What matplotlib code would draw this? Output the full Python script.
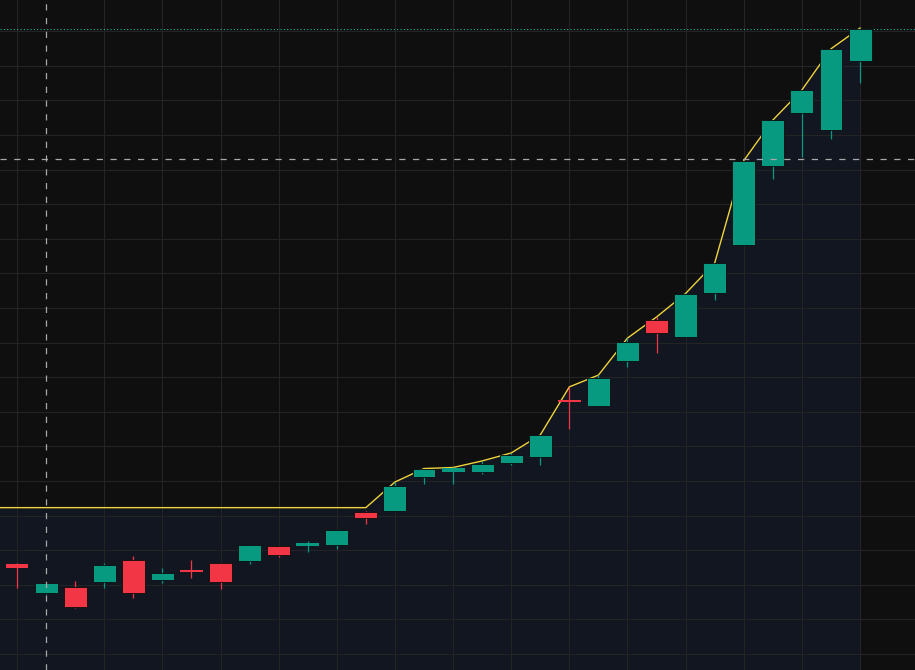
import numpy as np
import matplotlib
matplotlib.use("Agg")
import matplotlib.pyplot as plt

# candle data
opens = [36.0, 27.6, 29.4, 30.8, 37.2, 31.4, 34.1, 36.3, 36.9, 41.2,
         41.2, 41.5, 51.0, 51.3, 61.2, 62.6, 62.6, 65.2, 66.9, 83.5,
         81.7, 94.7, 106.5, 101.6, 114.3, 128.2, 151.0, 166.4, 161.5, 181.4]
highs = [36.3, 30.8, 31.1, 36.3, 38.3, 34.9, 37.2, 36.4, 41.5, 41.3,
         42.7, 45.9, 51.3, 59.7, 63.6, 63.9, 65.8, 68.1, 73.3, 87.2,
         90.6, 101.3, 107.4, 114.2, 123.0, 152.6, 164.3, 173.0, 184.9, 190.9]
lows = [29.1, 27.3, 23.3, 29.1, 26.2, 30.5, 32.0, 28.8, 36.0, 38.0,
        39.5, 40.4, 47.6, 51.2, 59.1, 59.1, 62.0, 64.6, 64.6, 75.0,
        81.6, 93.0, 97.0, 101.5, 112.3, 128.1, 147.3, 153.6, 158.8, 175.0]
closes = [34.9, 30.5, 23.6, 35.7, 27.6, 33.4, 33.8, 30.8, 41.5, 38.6,
          42.1, 45.8, 49.3, 58.5, 63.5, 63.8, 64.9, 67.5, 73.3, 82.9,
          89.8, 100.2, 102.8, 114.0, 123.0, 152.5, 164.3, 173.0, 184.9, 190.5]
prior_high = 52.3      # highest high before the visible window
cross_x = 1            # crosshair bar
cross_y = 153.0        # crosshair price

o = np.array(opens)
h = np.array(highs)
l = np.array(lows)
c = np.array(closes)
idx = np.arange(len(o))

up_col = '#089981'
dn_col = '#f23645'
colors = np.where(c >= o, up_col, dn_col)

# running high line
line_x = np.r_[-1, idx]
line_y = np.maximum.accumulate(np.r_[prior_high, h])

fig = plt.figure(figsize=(9.15, 6.7), dpi=100)
ax = fig.add_axes([0, 0, 1, 1])
fig.patch.set_facecolor('#0f0f0f')
ax.set_facecolor('#0f0f0f')

ax.fill_between(line_x, line_y, 0, color='#111621', zorder=0.1, linewidth=0)

# grid
for gx in [0] + list(range(3, 30, 2)):
    ax.axvline(gx, color='#242424', lw=0.8, zorder=0.5)
for gy in range(10, 200, 10):
    ax.axhline(gy, color='#242424', lw=0.8, zorder=0.5)

ax.plot(line_x, line_y, color='#f0d43c', lw=1.0, zorder=2)

# last price line
ax.axhline(c[-1], color='#12b397', lw=0.8, linestyle=(0, (1, 2)), zorder=2.5)

# candles
ax.vlines(idx, l, h, colors=colors, lw=0.9, zorder=3)
body_h = np.maximum(np.abs(c - o), 0.35)
edge_w = np.where(body_h > 1.5, 0.6, 0.0)
ax.bar(idx, body_h, bottom=np.minimum(o, c), width=0.79, color=colors,
       edgecolor='#0c0c0c', linewidth=edge_w, zorder=4)

# crosshair
ax.axvline(cross_x, color='#a8a8a8', lw=0.9, linestyle=(0, (5, 6)), zorder=6)
ax.axhline(cross_y, color='#a8a8a8', lw=0.9, linestyle=(0, (5, 6)), zorder=6)

ax.set_xlim(-0.585, 30.89)
ax.set_ylim(5.38, 199.0)
ax.axis('off')

fig.savefig('out.png', dpi=100, facecolor=fig.get_facecolor())
